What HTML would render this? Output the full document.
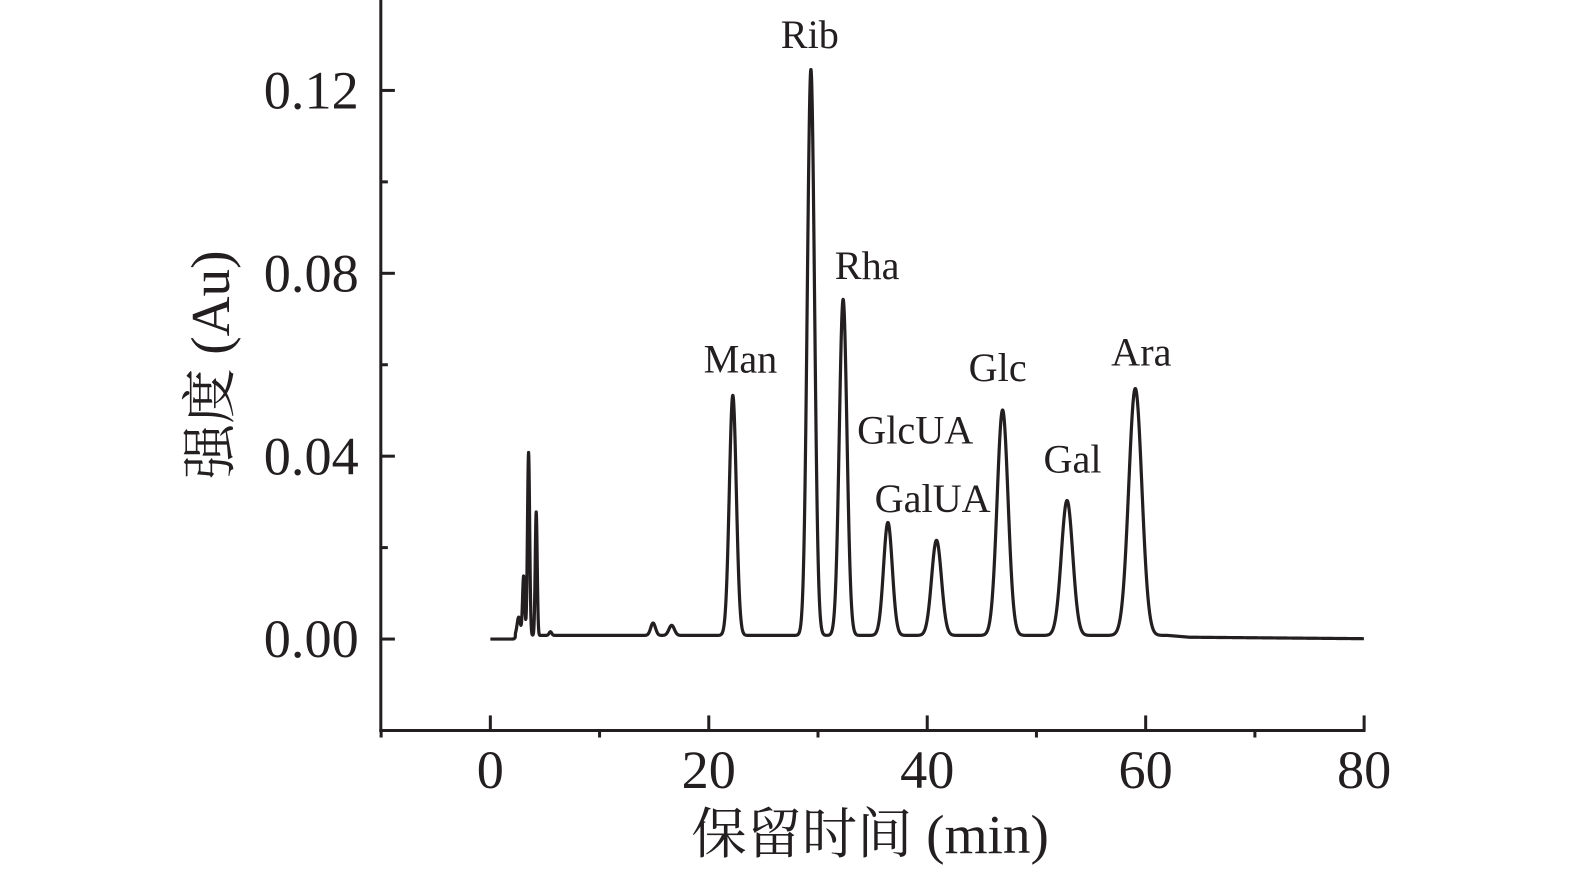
<!DOCTYPE html>
<html><head><meta charset="utf-8"><style>
html,body{margin:0;padding:0;background:#fff;overflow:hidden;width:1575px;height:873px}
svg{display:block}
svg text{font-family:"Liberation Serif","Noto Serif CJK SC",serif;fill:#231f20}
</style></head><body>
<svg id="c" width="1575" height="873" viewBox="0 0 1575 873" xmlns="http://www.w3.org/2000/svg">
<g transform="scale(1.0048)">
<g id="axes"></g>
<path id="trace" fill="none" stroke="#231f20" stroke-width="3.2" stroke-linejoin="round"/>
<g id="labels"></g>
<text transform="translate(228,363) rotate(-90)" text-anchor="middle" font-size="55">强度 (Au)</text>
<text x="866" y="849" text-anchor="middle" font-size="55">保留时间 (min)</text>
</g>
</svg>
<script>
const peakTimes=[2.6,3.05,3.5,4.2,5.5,14.9,16.6,22.2,29.35,32.3,36.4,40.85,46.9,52.8,59.05];
const peakHeights=[0.004,0.013,0.040,0.027,0.0008,0.0027,0.0022,0.0525,0.1238,0.0735,0.0247,0.0208,0.0493,0.0295,0.054];
const peakWidths=[0.15,0.1,0.1,0.09,0.12,0.22,0.25,0.32,0.33,0.35,0.4,0.45,0.5,0.52,0.6];
const labelNames=["Man","Rib","Rha","GlcUA","GalUA","Glc","Gal","Ara"];
const labelTimes=[22.9,29.25,34.5,38.9,40.5,46.45,53.3,59.6];
const labelValues=[0.0585,0.1295,0.079,0.043,0.028,0.0567,0.0367,0.060];
const xTicks=[0,20,40,60,80];
const yTicks=[0,0.04,0.08,0.12];
const yTickLabels=["0.00","0.04","0.08","0.12"];
const X=t=>488+(t-0)*10.87;
const Y=v=>636-v*4550;
const ns="http://www.w3.org/2000/svg";
const ax=document.getElementById('axes');
function mk(tag,attrs,parent){const e=document.createElementNS(ns,tag);for(const k in attrs)e.setAttribute(k,attrs[k]);parent.appendChild(e);return e;}
let l=mk('line',{x1:379,y1:0,x2:379,y2:728.5,stroke:'#231f20','stroke-width':3},ax);


l=mk('line',{x1:377.5,y1:727,x2:1359,y2:727,stroke:'#231f20','stroke-width':3},ax);


for(let t=-10;t<=80;t+=10){
  const major=xTicks.includes(t);
  const tk=mk('line',{x1:X(t),x2:X(t),y1:major?712:727,y2:major?727:734,stroke:'#231f20','stroke-width':3},ax);
  
  
}
xTicks.forEach(t=>{const e=mk('text',{x:X(t),y:784,'text-anchor':'middle','font-size':54},ax);e.textContent=t;
  
  });
for(let v=-0.02;v<=0.125;v+=0.02){
  const major=yTicks.some(y=>Math.abs(y-v)<1e-6);
  const tk=mk('line',{x1:379,x2:major?393:386,y1:Y(v),y2:Y(v),stroke:'#231f20','stroke-width':3},ax);
  
  
}
yTicks.forEach((v,i)=>{const e=mk('text',{x:357,y:Y(v)+18,'text-anchor':'end','font-size':54},ax);e.textContent=yTickLabels[i];
  
  });
function base(t){if(t<2.3)return 0;if(t<62)return 0.0008;if(t<64)return 0.0008-(t-62)*0.0002;return 0.0004-(t-64)*0.00002;}
let d='';
for(let t=0;t<=80;t+=0.02){
  let v=base(t);
  for(let i=0;i<peakTimes.length;i++){const z=(t-peakTimes[i])/peakWidths[i];v+=peakHeights[i]*Math.exp(-0.5*z*z);}
  d+=(d?'L':'M')+X(t).toFixed(2)+' '+Y(v).toFixed(2);
}
document.getElementById('trace').setAttribute('d',d);
const lg=document.getElementById('labels');
labelNames.forEach((n,i)=>{const e=mk('text',{x:X(labelTimes[i]),y:Y(labelValues[i])+1,'text-anchor':'middle','font-size':40},lg);e.textContent=n;
  
  });
</script>
</body></html>
